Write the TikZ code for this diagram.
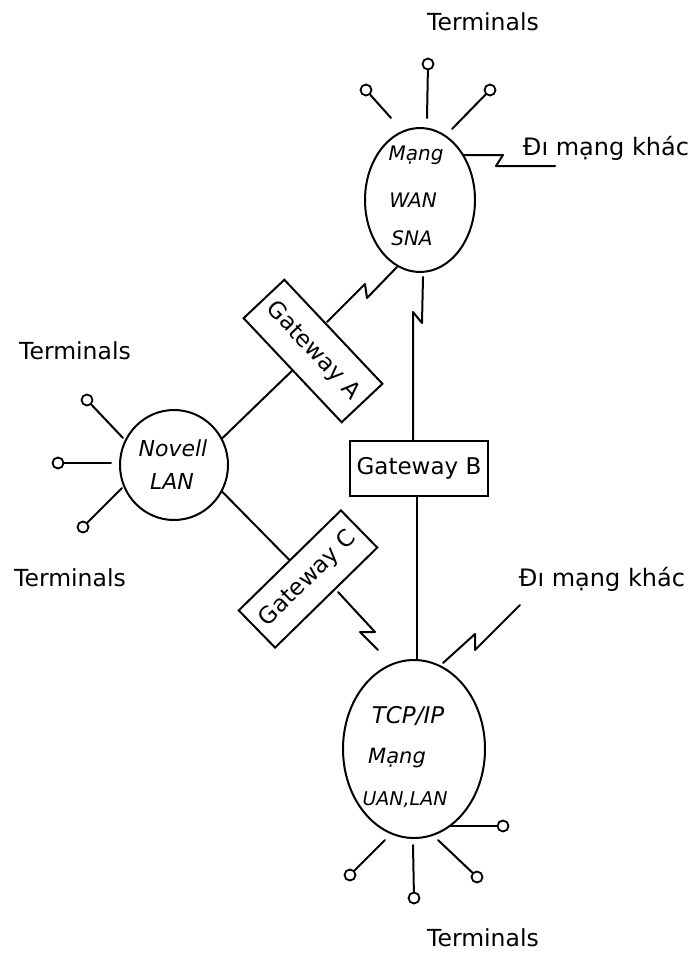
\documentclass[tikz,border=0pt]{standalone}
\usepackage{fontspec}
\setmainfont{DejaVu Sans}
\usetikzlibrary{shapes.geometric}
\begin{document}
\begin{tikzpicture}[x=1pt,y=-1pt,
  wire/.style={line width=2pt, line join=round, line cap=round},
  net/.style={draw, ellipse, line width=2pt, inner sep=0pt},
  term/.style={draw, circle, line width=1.8pt, minimum size=11pt, inner sep=0pt},
  gw/.style={draw, rectangle, line width=2pt, inner sep=0pt, font=\fontsize{23}{23}\selectfont},
  lbl/.style={font=\fontsize{23.5}{23.5}\selectfont, inner sep=0pt},
  inl/.style={font=\itshape\fontsize{20}{20}\selectfont, inner sep=0pt}]
\useasboundingbox (0,0) rectangle (691,956);
\fill[white] (0,0) rectangle (691,956);

% networks
\node[net, minimum width=110pt, minimum height=144pt] (sna) at (420,200) {};
\node[inl] (snaA) at (416,155) {Mạng};
\node[inl] (snaB) at (413,200) {WAN};
\node[inl] (snaC) at (412,238) {SNA};

\node[net, minimum width=108pt, minimum height=110pt] (nov) at (174,465) {};
\node[inl, font=\itshape\fontsize{22}{22}\selectfont] (novA) at (173,448) {Novell};
\node[inl, font=\itshape\fontsize{22}{22}\selectfont] (novB) at (172,481) {LAN};

\node[net, minimum width=142pt, minimum height=178pt] (tcp) at (414,749) {};
\node[inl, font=\itshape\fontsize{23}{23}\selectfont] (tcpA) at (408,716) {TCP/IP};
\node[inl, font=\itshape\fontsize{21}{21}\selectfont] (tcpB) at (397,758) {Mạng};
\node[inl, font=\itshape\fontsize{19}{19}\selectfont] (tcpC) at (405,800) {UAN,LAN};

% gateways
\node[gw, minimum width=143pt, minimum height=56pt, rotate=-46.7] (gwA) at (313,351) {Gateway A};
\node[gw, minimum width=138pt, minimum height=55pt] (gwB) at (419,468) {Gateway B};
\node[gw, minimum width=143pt, minimum height=52pt, rotate=44.4] (gwC) at (308,579) {Gateway C};

% labels
\node[lbl] (lt1) at (483,22) {Terminals};
\node[lbl] (lt2) at (75,351) {Terminals};
\node[lbl] (lt3) at (70,578) {Terminals};
\node[lbl] (lt4) at (483,938) {Terminals};
\node[lbl, font=\fontsize{24}{24}\selectfont] (oth1) at (606,148) {Đı mạng khác};
\node[lbl, font=\fontsize{24}{24}\selectfont] (oth2) at (602,579) {Đı mạng khác};

% terminals of SNA
\node[term] (ts1) at (366,90) {};
\node[term] (ts2) at (428,64) {};
\node[term] (ts3) at (490,90) {};
\coordinate (ts1e) at (391,118);
\coordinate (ts2e) at (427,118);
\coordinate (ts3e) at (452,129);
\draw[wire] (ts1) -- (ts1e);
\draw[wire] (ts2) -- (ts2e);
\draw[wire] (ts3) -- (ts3e);

% terminals of Novell
\node[term] (tn1) at (87,400) {};
\node[term] (tn2) at (58,463) {};
\node[term] (tn3) at (83,527) {};
\coordinate (tn1e) at (123,438);
\coordinate (tn2e) at (111,463);
\coordinate (tn3e) at (122,488);
\draw[wire] (tn1) -- (tn1e);
\draw[wire] (tn2) -- (tn2e);
\draw[wire] (tn3) -- (tn3e);

% terminals of TCP/IP
\node[term] (tt1) at (503,826) {};
\node[term] (tt2) at (414,898) {};
\node[term] (tt3) at (350,875) {};
\node[term] (tt4) at (477,877) {};
\coordinate (tt1e) at (450,826);
\coordinate (tt2e) at (413,845);
\coordinate (tt3e) at (385,840);
\coordinate (tt4e) at (438,840);
\draw[wire] (tt1e) -- (tt1);
\draw[wire] (tt2e) -- (tt2);
\draw[wire] (tt3e) -- (tt3);
\draw[wire] (tt4e) -- (tt4);

% Novell - Gateway A - SNA
\draw[wire] (nov.29) -- (gwA.south);
\coordinate (za0) at (327,322);
\coordinate (za1) at (365,284);
\coordinate (za2) at (367,298);
\coordinate (za3) at (397,267);
\draw[wire] (za0) -- (za1) -- (za2) -- (za3);

% SNA - Gateway B - TCP/IP
\coordinate (zb0) at (423,277);
\coordinate (zb1) at (422,323);
\coordinate (zb2) at (413,312);
\draw[wire] (zb0) -- (zb1) -- (zb2) -- (zb2 |- gwB.north);
\draw[wire] (gwB.south -| 417,0) -- (tcp.north -| 417,0);

% Novell - Gateway C - TCP/IP
\draw[wire] (nov.-29) -- (gwC.north);
\coordinate (zc0) at (338,592);
\coordinate (zc1) at (375,632);
\coordinate (zc2) at (360,632);
\coordinate (zc3) at (378,650);
\draw[wire] (zc0) -- (zc1) -- (zc2) -- (zc3);

% other networks
\coordinate (zs0) at (463,155);
\coordinate (zs1) at (503,155);
\coordinate (zs2) at (496,166);
\coordinate (zs3) at (555,166);
\draw[wire] (zs0) -- (zs1) -- (zs2) -- (zs3);
\coordinate (zt0) at (443,663);
\coordinate (zt1) at (475,634);
\coordinate (zt2) at (475,650);
\coordinate (zt3) at (520,605);
\draw[wire] (zt0) -- (zt1) -- (zt2) -- (zt3);
\end{tikzpicture}
\end{document}
